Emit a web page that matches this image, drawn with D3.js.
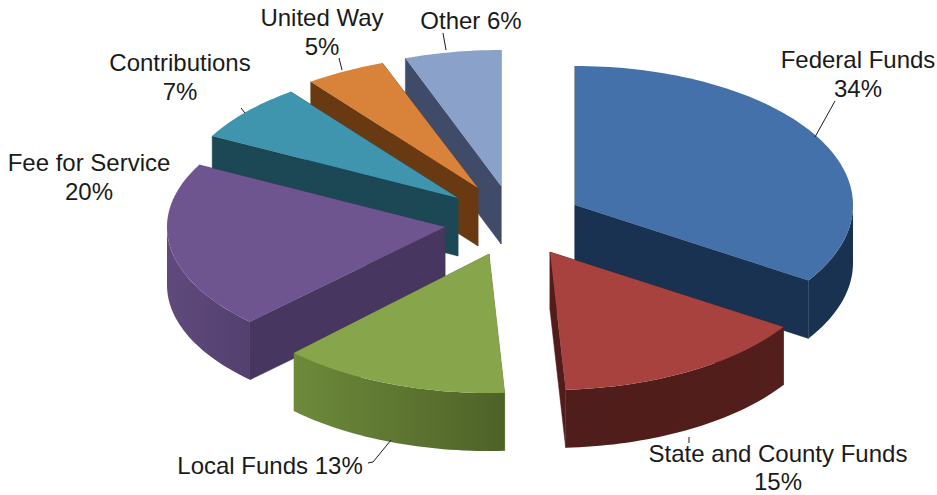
<!DOCTYPE html>
<html>
<head>
<meta charset="utf-8">
<title>Funding sources</title>
<script src="https://cdn.jsdelivr.net/npm/d3@7"></script>
<style>
  body { margin: 0; background: #fff; }
  svg { display: block; }
  text { font-family: "Liberation Sans", Arial, sans-serif; font-size: 24px; fill: #1a1a1a; }
</style>
</head>
<body>
<div id="chart"></div>
<script>
      var categories = ["Federal Funds", "State and County Funds", "Local Funds", "Fee for Service", "Contributions", "United Way", "Other"];
      var values = [34.2, 15, 13.3, 20.4, 7, 4.7, 5.6];
      var percents = ["34%", "15%", "13%", "20%", "7%", "5%", "6%"];

      // colours per slice
      var topColors = ["#4471a9", "#a8423f", "#87a64b", "#6f5590", "#3f95ad", "#d9833a", "#8aa1c9"];
      var cutColors = ["#1a3252", "#511c1a", "#5f7834", "#47365f", "#1c4856", "#693a12", "#3f4b68"];
      var wallLeft = ["#1a3252", "#4f1d1b", "#6d8a3a", "#5f4a7c", "#1c4856", "#693a12", "#3f4b68"];
      var wallRight = ["#1a3252", "#531e1c", "#4e6228", "#54406f", "#1c4856", "#693a12", "#3f4b68"];

      // layout: tip of each exploded slice and its vertical radius (the far side looks a bit shorter)
      var apexX = [575, 550, 489, 445, 458, 478, 501];
      var apexY = [205, 252, 254, 227, 198, 188, 186];
      var radiusY = [139, 138, 139, 133, 133, 133, 136];
      // label anchor (centre of the text) and first baseline, twoLines = percent on its own row
      var labelX = [858, 778, 270, 89, 180, 322, 471];
      var labelY = [68, 461.5, 474, 171, 71, 26, 29];
      var twoLines = [true, true, false, true, true, true, false];
      var lineGap = 28.5;
      // leader lines
      var leaders = [
        [[815, 137], [835, 101]],
        [[689, 437], [689, 443]],
        [[391, 440], [373, 462], [368, 463]],
        [[241, 108], [245, 113]],
        [[339, 58], [342, 70]],
        [[443, 33], [446, 50]]
      ];

      var width = 937, height = 495;
      var rx = 278, depth = 58;

      var svg = d3.select("#chart").append("svg")
          .attr("width", width)
          .attr("height", height);
      var defs = svg.append("defs");

      var pie = d3.pie().sort(null).value(function(d) { return d; });
      var slices = pie(values).map(function(s) {
        s.mid = (s.startAngle + s.endAngle) / 2;
        return s;
      });

      // angle (0 = up, clockwise) to screen position
      function project(i, a, drop) {
        return [apexX[i] + rx * Math.sin(a), apexY[i] - radiusY[i] * Math.cos(a) + (drop || 0)];
      }

      function arcPoints(i, a0, a1, drop) {
        var n = Math.max(2, Math.ceil((a1 - a0) * 40));
        return d3.range(n + 1).map(function(k) {
          return project(i, a0 + (a1 - a0) * k / n, drop);
        });
      }

      var line = d3.line();

      // gradient for the curved wall
      slices.forEach(function(s, i) {
        var g = defs.append("linearGradient")
            .attr("id", "wall" + i)
            .attr("gradientUnits", "userSpaceOnUse")
            .attr("x1", apexX[i] + rx * Math.sin(Math.max(s.startAngle, Math.PI / 2)))
            .attr("x2", apexX[i] + rx * Math.sin(Math.min(s.endAngle, 3 * Math.PI / 2)))
            .attr("y1", 0).attr("y2", 0);
        // x1 is the right end, since the wall runs clockwise from right to left
        g.append("stop").attr("offset", "0%").attr("stop-color", wallRight[i]);
        g.append("stop").attr("offset", "100%").attr("stop-color", wallLeft[i]);
      });

      // back slices first
      var order = d3.range(slices.length).sort(function(a, b) {
        return d3.descending(Math.cos(slices[a].mid), Math.cos(slices[b].mid));
      });

      var pieces = svg.selectAll("g.slice")
          .data(order)
          .enter()
          .append("g")
          .attr("class", "slice");

      pieces.each(function(i) {
        var s = slices[i];
        var g = d3.select(this);
        var tip = [apexX[i], apexY[i]];
        var tipLow = [apexX[i], apexY[i] + depth];

        // flat cut faces
        [s.startAngle, s.endAngle].forEach(function(a) {
          g.append("path")
              .attr("d", line([tip, project(i, a), project(i, a, depth), tipLow]) + "Z")
              .attr("fill", cutColors[i])
              .attr("stroke", cutColors[i])
              .attr("stroke-width", 0.5);
        });

        // curved wall, only the part that faces the viewer
        var a0 = Math.max(s.startAngle, Math.PI / 2);
        var a1 = Math.min(s.endAngle, 3 * Math.PI / 2);
        if (a1 > a0) {
          var upper = arcPoints(i, a0, a1);
          var lower = arcPoints(i, a0, a1, depth).reverse();
          g.append("path")
              .attr("d", line(upper.concat(lower)) + "Z")
              .attr("fill", "url(#wall" + i + ")");
        }

        // top face
        g.append("path")
            .attr("d", line([tip].concat(arcPoints(i, s.startAngle, s.endAngle))) + "Z")
            .attr("fill", topColors[i]);
      });

      // leader lines
      svg.selectAll("path.leader")
          .data(leaders)
          .enter()
          .append("path")
          .attr("class", "leader")
          .attr("d", line)
          .attr("fill", "none")
          .attr("stroke", "#1a1a1a")
          .attr("stroke-width", 1);

      // labels
      var labels = svg.selectAll("g.label")
          .data(categories)
          .enter()
          .append("g")
          .attr("class", "label")
          .attr("transform", function(d, i) { return "translate(" + labelX[i] + "," + labelY[i] + ")"; });

      labels.append("text")
          .attr("text-anchor", "middle")
          .text(function(d, i) { return twoLines[i] ? d : d + " " + percents[i]; });

      labels.filter(function(d, i) { return twoLines[i]; })
          .append("text")
          .attr("text-anchor", "middle")
          .attr("y", lineGap)
          .text(function(d) { return percents[categories.indexOf(d)]; });
</script>
</body>
</html>
